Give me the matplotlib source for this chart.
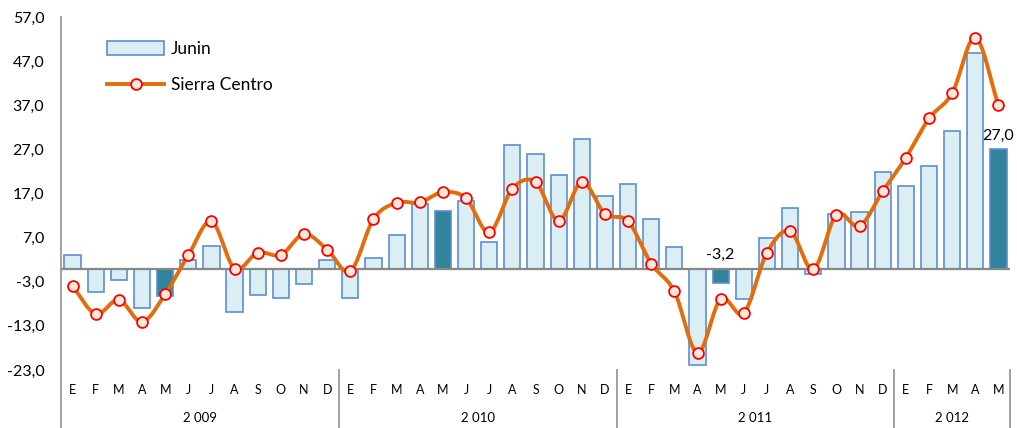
import matplotlib
matplotlib.use("Agg")
import matplotlib.pyplot as plt
import numpy as np
from matplotlib.lines import Line2D
from matplotlib.patches import Patch

months = ["E", "F", "M", "A", "M", "J", "J", "A", "S", "O", "N", "D"] * 3 + ["E", "F", "M", "A", "M"]
years = ["2 009", "2 010", "2 011", "2 012"]
year_counts = [12, 12, 12, 5]

junin = [3.0, -5.3, -2.6, -8.9, -6.3, 2.0, 5.2, -9.8, -6.1, -6.6, -3.4, 2.0,
         -6.6, 2.4, 7.7, 14.7, 13.1, 15.3, 6.1, 28.1, 25.9, 21.2, 29.4, 16.5,
         19.1, 11.3, 4.8, -21.8, -3.2, -6.9, 6.9, 13.8, -1.3, 12.4, 12.8, 21.9,
         18.7, 23.3, 31.1, 48.9, 27.0]
sierra = [-4.0, -10.3, -7.1, -12.1, -5.8, 3.0, 10.7, 0.0, 3.6, 3.1, 7.8, 4.3,
          -0.6, 11.2, 14.9, 15.0, 17.3, 15.9, 8.2, 18.1, 19.6, 10.8, 19.6, 12.4,
          10.7, 1.1, -5.2, -19.1, -6.9, -10.1, 3.6, 8.5, -0.2, 12.2, 9.6, 17.5,
          25.1, 34.0, 39.7, 52.3, 37.0]
highlight = [4, 16, 28, 40]
labels_to_show = {28: "-3,2", 40: "27,0"}
yticks = [-23, -13, -3, 7, 17, 27, 37, 47, 57]

light = "#DAEEF3"
dark = "#31849B"
edge = "#5B8FD6"
orange = "#E46C0A"

plt.rcParams['font.family'] = ['Lato', 'DejaVu Sans']

fig = plt.figure(figsize=(10.17, 4.28), dpi=100)
W, H = 1017, 428
ax = fig.add_axes([61 / W, 1 - 370 / H, (1010 - 61) / W, (370 - 17) / H])

x = np.arange(len(junin))
colors = [dark if i in highlight else light for i in x]
ax.bar(x, junin, width=0.7, color=colors, edgecolor=edge, linewidth=1.2, zorder=2)

ax.axhline(0, color="#878787", linewidth=1.6, zorder=3)

# Catmull-Rom smoothing through the points
def catmull(xs, ys, n=20):
    xs = np.asarray(xs, float); ys = np.asarray(ys, float)
    px = np.concatenate([[2 * xs[0] - xs[1]], xs, [2 * xs[-1] - xs[-2]]])
    py = np.concatenate([[2 * ys[0] - ys[1]], ys, [2 * ys[-1] - ys[-2]]])
    ox, oy = [], []
    t = np.linspace(0, 1, n, endpoint=False)
    for i in range(1, len(px) - 2):
        p0, p1, p2, p3 = py[i - 1], py[i], py[i + 1], py[i + 2]
        q0, q1, q2, q3 = px[i - 1], px[i], px[i + 1], px[i + 2]
        yy = 0.5 * ((2 * p1) + (-p0 + p2) * t + (2 * p0 - 5 * p1 + 4 * p2 - p3) * t ** 2 + (-p0 + 3 * p1 - 3 * p2 + p3) * t ** 3)
        xx = 0.5 * ((2 * q1) + (-q0 + q2) * t + (2 * q0 - 5 * q1 + 4 * q2 - q3) * t ** 2 + (-q0 + 3 * q1 - 3 * q2 + q3) * t ** 3)
        ox.extend(xx); oy.extend(yy)
    ox.append(xs[-1]); oy.append(ys[-1])
    return np.array(ox), np.array(oy)

sx, sy = catmull(x, sierra)
ax.plot(sx, sy, color=orange, linewidth=2.8, zorder=4, solid_capstyle='round')
ax.plot(x, sierra, linestyle='none', marker='o', markersize=7.8, markerfacecolor="#FDE9D9",
        markeredgecolor="#FF0000", markeredgewidth=1.3, zorder=5)

for i, txt in labels_to_show.items():
    yv = max(junin[i], 0)
    ax.annotate(txt, (x[i], yv), xytext=(0, 5), textcoords='offset points',
                ha='center', va='bottom', fontsize=11.5, color='black', zorder=6)

ax.set_xlim(-0.5, len(junin) - 0.5)
ax.set_ylim(-23, 57)
ax.set_yticks(yticks)
ax.set_yticklabels([f"{v:.1f}".replace(".", ",") for v in yticks], fontsize=11.5)
ax.tick_params(axis='y', length=0, pad=12)
ax.set_xticks([])
for s in ax.spines.values():
    s.set_visible(False)

# left axis line
ax.plot([-0.5, -0.5], [1.0, -0.164], transform=ax.get_xaxis_transform(), color="#9A9A9A",
        linewidth=1.3, clip_on=False, zorder=1)

trans = ax.get_xaxis_transform()
for i, m in enumerate(months):
    ax.text(x[i], -0.058, m, transform=trans, ha='center', va='center', fontsize=9, color='black')

start = 0
for yr, c in zip(years, year_counts):
    ax.text(start + (c - 1) / 2, -0.137, yr, transform=trans, ha='center', va='center', fontsize=9.5, color='black')
    start += c
    ax.plot([start - 0.5, start - 0.5], [0, -0.164], transform=trans, color="#9A9A9A",
            linewidth=1.3, clip_on=False, zorder=1)

handles = [Patch(facecolor=light, edgecolor=edge, linewidth=1.2),
           Line2D([0], [0], color=orange, linewidth=2.8, marker='o', markersize=7.8,
                  markerfacecolor="#FDE9D9", markeredgecolor="#FF0000", markeredgewidth=1.3)]
leg = ax.legend(handles, ["Junin", "Sierra Centro"], loc='upper left',
                bbox_to_anchor=((100 - 61) / (1010 - 61), 1 - (34 - 17) / 353),
                frameon=False, fontsize=12.5, handlelength=3.3, handleheight=0.8,
                labelspacing=1.15, handletextpad=0.4, borderaxespad=0)

fig.savefig("out.png", dpi=100)
